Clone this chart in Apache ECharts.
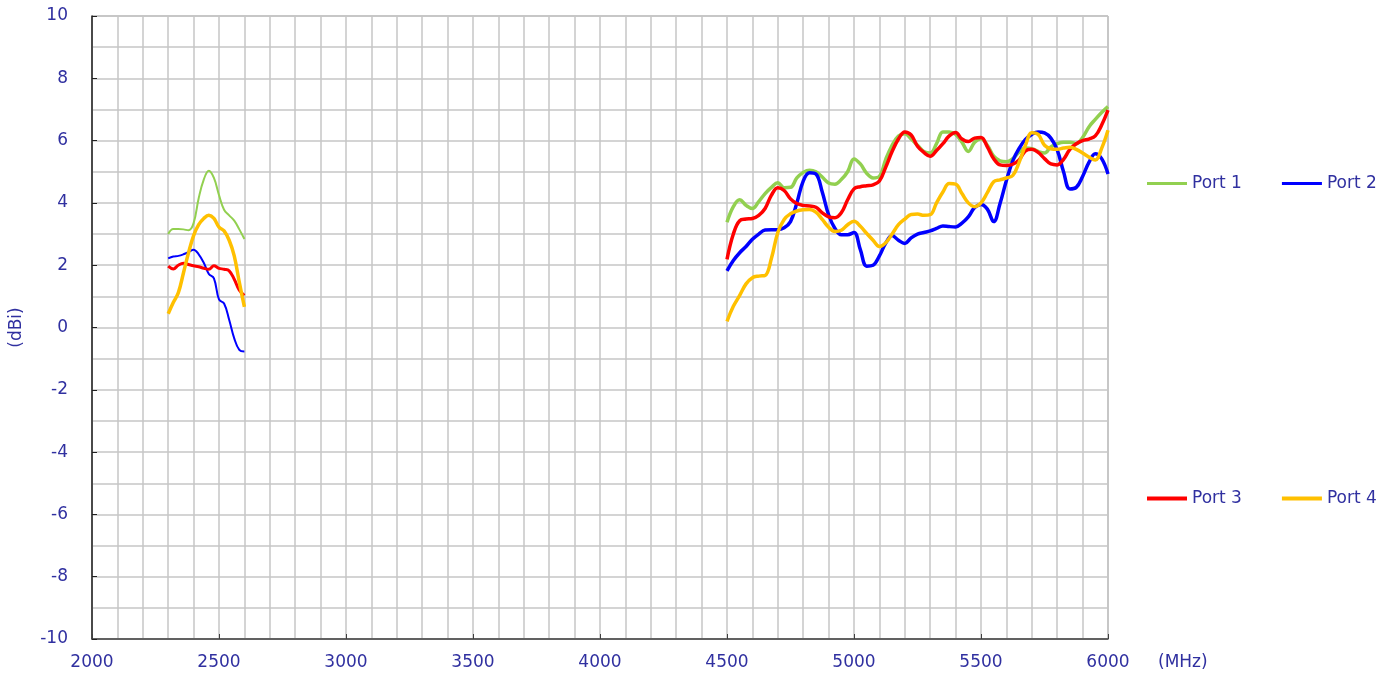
<!DOCTYPE html>
<html>
<head>
<meta charset="utf-8">
<script src="https://cdn.jsdelivr.net/npm/echarts@6/dist/echarts.min.js"></script>
<style>
  html, body { margin: 0; padding: 0; background: #fff; }
  #chart { width: 1392px; height: 679px; }
</style>
</head>
<body>
<div id="chart"></div>
<script>
// frequencies (MHz)
var lowFreq = [2300, 2320, 2340, 2360, 2380, 2400, 2420, 2440, 2460, 2480, 2500, 2520, 2540, 2560, 2580, 2600];
var highFreq = [];
for (var f = 4500; f <= 6000; f += 25) highFreq.push(f);

// gain (dBi), low band
var p1Low = [3.0, 3.16, 3.16, 3.15, 3.12, 3.35, 4.15, 4.75, 5.03, 4.8, 4.25, 3.78, 3.6, 3.43, 3.15, 2.84];
var p2Low = [2.22, 2.28, 2.3, 2.35, 2.42, 2.5, 2.35, 2.08, 1.72, 1.58, 0.9, 0.77, 0.25, -0.35, -0.72, -0.77];
var p3Low = [1.97, 1.88, 2.0, 2.06, 2.02, 1.98, 1.95, 1.9, 1.87, 1.98, 1.9, 1.87, 1.82, 1.55, 1.2, 1.03];
var p4Low = [0.44, 0.8, 1.12, 1.75, 2.4, 2.95, 3.3, 3.5, 3.6, 3.5, 3.22, 3.1, 2.8, 2.3, 1.45, 0.66];

// gain (dBi), high band, 4500..6000 step 25
var p1High = [3.38, 3.88, 4.1, 3.92, 3.82, 4.04, 4.3, 4.5, 4.65, 4.49, 4.5, 4.8, 4.98, 5.05, 5.0, 4.83,
  4.64, 4.6, 4.75, 5.0, 5.41, 5.25, 4.95, 4.8, 4.85, 5.4, 5.85, 6.15, 6.22, 6.05, 5.85, 5.65,
  5.6, 5.9, 6.28, 6.28, 6.2, 5.95, 5.65, 5.95, 6.06, 5.85, 5.5, 5.35, 5.32, 5.42, 5.63, 5.76,
  5.74, 5.65, 5.6, 5.8, 5.9, 5.95, 5.95, 5.9, 6.1, 6.44, 6.68, 6.9, 7.09];
var p2High = [1.82, 2.15, 2.4, 2.6, 2.83, 3.0, 3.13, 3.14, 3.14, 3.2, 3.4, 4.0, 4.7, 4.97, 4.93, 4.35,
  3.62, 3.18, 2.98, 2.98, 3.05, 2.5, 1.97, 2.0, 2.3, 2.71, 2.95, 2.8, 2.7, 2.88, 3.0, 3.05,
  3.1, 3.18, 3.26, 3.24, 3.23, 3.35, 3.55, 3.85, 3.95, 3.8, 3.4, 3.98, 4.72, 5.35, 5.75, 6.04,
  6.2, 6.28, 6.25, 6.08, 5.7, 5.0, 4.45, 4.5, 4.85, 5.3, 5.58, 5.42, 4.93];
var p3High = [2.19, 3.0, 3.43, 3.48, 3.5, 3.6, 3.82, 4.25, 4.49, 4.4, 4.13, 3.98, 3.92, 3.9, 3.86, 3.68,
  3.55, 3.52, 3.68, 4.1, 4.45, 4.52, 4.55, 4.58, 4.7, 5.15, 5.65, 6.05, 6.28, 6.18, 5.82, 5.62,
  5.5, 5.68, 5.9, 6.15, 6.26, 6.05, 5.97, 6.08, 6.1, 5.8, 5.42, 5.22, 5.2, 5.24, 5.38, 5.67,
  5.72, 5.62, 5.42, 5.25, 5.22, 5.4, 5.72, 5.9, 6.0, 6.05, 6.15, 6.5, 6.98];
var p4High = [0.2, 0.68, 1.03, 1.4, 1.6, 1.65, 1.67, 2.22, 3.05, 3.47, 3.65, 3.74, 3.78, 3.79, 3.7, 3.47,
  3.22, 3.08, 3.12, 3.3, 3.41, 3.25, 3.02, 2.8, 2.6, 2.72, 3.0, 3.3, 3.48, 3.63, 3.64, 3.6,
  3.62, 4.0, 4.35, 4.62, 4.6, 4.3, 4.0, 3.88, 4.0, 4.33, 4.68, 4.74, 4.8, 4.88, 5.3, 5.85,
  6.25, 6.2, 5.85, 5.74, 5.72, 5.76, 5.79, 5.72, 5.6, 5.47, 5.38, 5.75, 6.33];

var names = ["Port 1", "Port 2", "Port 3", "Port 4"];
var colors = ["#92D050", "#0000FF", "#FF0000", "#FFC000"];
var lowWidths = [2, 2, 3, 3.5];
var lows = [p1Low, p2Low, p3Low, p4Low];
var highs = [p1High, p2High, p3High, p4High];

var textColor = "#3030A0";
var font = "DejaVu Sans";

function pairs(xs, ys) {
  return xs.map(function (x, i) { return [x, ys[i]]; });
}

var series = [];
for (var i = 0; i < 4; i++) {
  series.push({
    name: names[i], type: "line", smooth: 0.4, showSymbol: false,
    lineStyle: { color: colors[i], width: lowWidths[i] },
    itemStyle: { color: colors[i] },
    data: pairs(lowFreq, lows[i])
  });
  series.push({
    name: names[i], type: "line", smooth: 0.4, showSymbol: false,
    lineStyle: { color: colors[i], width: 3.5 },
    itemStyle: { color: colors[i] },
    data: pairs(highFreq, highs[i])
  });
}

var gridLine = { show: true, lineStyle: { color: "#C6C6C6", width: 1.5 } };

var chart = echarts.init(document.getElementById("chart"));
var option = {
  animation: false,
  textStyle: { fontFamily: font },
  grid: { left: 92, right: 284, top: 16, bottom: 40, show: true, borderColor: "#999", borderWidth: 1 },
  legend: [
    {
      data: ["Port 1", "Port 2"], left: 1142, top: 170, orient: "horizontal",
      icon: "rect", itemWidth: 40, itemHeight: 3, itemGap: 40,
      textStyle: { color: textColor, fontSize: 17, fontFamily: font }
    },
    {
      data: ["Port 3", "Port 4"], left: 1142, top: 485, orient: "horizontal",
      icon: "rect", itemWidth: 40, itemHeight: 4, itemGap: 40,
      textStyle: { color: textColor, fontSize: 17, fontFamily: font }
    }
  ],
  xAxis: {
    type: "value", min: 2000, max: 6000, interval: 500,
    name: "(MHz)", nameLocation: "end", nameGap: 50,
    nameTextStyle: { color: textColor, fontSize: 17, fontFamily: font, verticalAlign: "top", padding: [15, 0, 0, 0] },
    axisLine: { show: true, onZero: false, lineStyle: { color: "#404040", width: 1.5 } },
    axisTick: { show: true, inside: true, length: 5, lineStyle: { color: "#404040" } },
    axisLabel: { color: textColor, fontSize: 17, fontFamily: font, margin: 15, formatter: function (v) { return String(v); } },
    splitLine: gridLine,
    minorTick: { show: false, splitNumber: 5 },
    minorSplitLine: gridLine
  },
  yAxis: {
    type: "value", min: -10, max: 10, interval: 2,
    name: "(dBi)", nameLocation: "middle", nameRotate: 90, nameGap: 67,
    nameTextStyle: { color: textColor, fontSize: 17, fontFamily: font },
    axisLine: { show: true, onZero: false, lineStyle: { color: "#202020", width: 1.5 } },
    axisTick: { show: true, inside: true, length: 5, lineStyle: { color: "#202020" } },
    axisLabel: { color: textColor, fontSize: 17, fontFamily: font, margin: 24, formatter: function (v) { return String(v); } },
    splitLine: gridLine,
    minorTick: { show: false, splitNumber: 2 },
    minorSplitLine: gridLine
  },
  series: series
};
chart.setOption(option);
</script>
</body>
</html>
